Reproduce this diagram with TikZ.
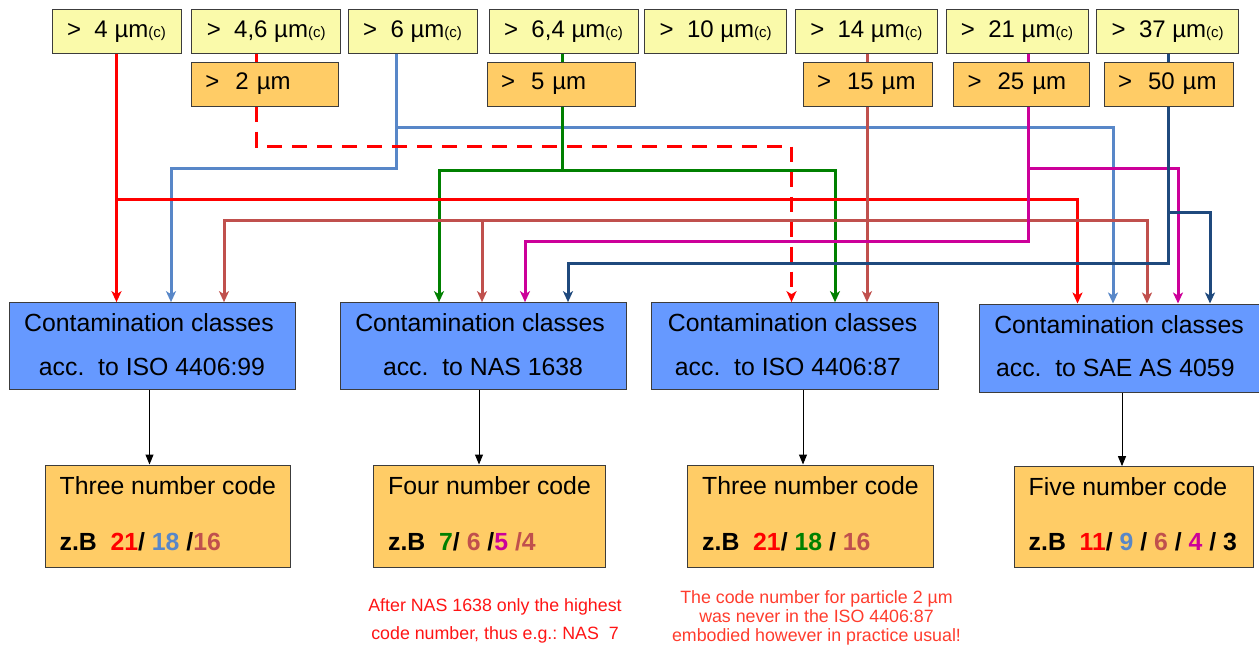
\documentclass[tikz,border=0pt]{standalone}
\usepackage{fontspec}
\setmainfont{Liberation Sans}
\usetikzlibrary{arrows.meta}
\definecolor{ylw}{RGB}{250,250,170}
\definecolor{org}{RGB}{255,204,102}
\definecolor{blu}{RGB}{102,153,255}
\definecolor{cred}{RGB}{255,0,0}
\definecolor{cblue}{RGB}{88,135,200}
\definecolor{cgreen}{RGB}{0,128,0}
\definecolor{cbrown}{RGB}{192,80,77}
\definecolor{cmag}{RGB}{204,0,153}
\definecolor{cdark}{RGB}{31,73,125}
\definecolor{nred}{RGB}{255,20,20}
\definecolor{nredb}{RGB}{255,60,45}
\definecolor{edge}{RGB}{60,60,60}
\newcommand{\mysubc}{{\fontsize{15}{15}\selectfont(c)}}
\frenchspacing
\begin{document}
\begin{tikzpicture}[x=1pt,y=-1pt,
  box/.style={draw=edge, line width=1pt, inner sep=0pt},
  topbox/.style={box, fill=ylw, minimum height=43.5pt, font=\fontsize{24}{24}\selectfont},
  midbox/.style={box, fill=org, minimum height=44pt, inner xsep=14pt, align=left, font=\fontsize{24}{24}\selectfont},
  clsbox/.style={box, fill=blu, minimum width=286pt, minimum height=87.3pt},
  codebox/.style={box, fill=org, minimum height=102pt},
  big/.style={inner sep=0pt, font=\fontsize{24.8}{24.8}\selectfont},
  bigl/.style={big, anchor=base west},
  bigc/.style={big, anchor=base},
  note/.style={inner sep=0pt, font=\fontsize{17.8}{17.8}\selectfont, anchor=base},
  line3/.style={line width=3pt},
  conn/.style={line3, -{Stealth[length=11pt,width=10pt,inset=3pt]}},
  dashconn/.style={conn, dash pattern=on 15pt off 10pt},
  kconn/.style={line width=1pt, black, -{Triangle[length=10pt,width=8pt]}}
]
\useasboundingbox (0,0) rectangle (1259,646);

% top row
\node[topbox, minimum width=129pt]   (t1) at (116.5,31.3) {>\ \ 4 µm\mysubc};
\node[topbox, minimum width=149.5pt] (t2) at (266.2,31.3) {>\ \ 4,6 µm\mysubc};
\node[topbox, minimum width=129pt]   (t3) at (412.5,31.3) {>\ \ 6 µm\mysubc};
\node[topbox, minimum width=149pt]   (t4) at (563.5,31.3) {>\ \ 6,4 µm\mysubc};
\node[topbox, minimum width=142.5pt] (t5) at (715.7,31.3) {>\ \ 10 µm\mysubc};
\node[topbox, minimum width=142.5pt] (t6) at (866.3,31.3) {>\ \ 14 µm\mysubc};
\node[topbox, minimum width=142pt]   (t7) at (1017,31.3) {>\ \ 21 µm\mysubc};
\node[topbox, minimum width=142.5pt] (t8) at (1167.7,31.3) {>\ \ 37 µm\mysubc};

% second row
\node[midbox, text width=119.5pt] (o1) at (265.2,84) {>\ \ 2 µm};
\node[midbox, text width=120pt]   (o2) at (561,84) {>\ \ 5 µm};
\node[midbox, text width=101pt]   (o3) at (867.5,84) {>\ \ 15 µm};
\node[midbox, text width=107.4pt] (o4) at (1021.3,84) {>\ \ 25 µm};
\node[midbox, text width=101pt]   (o5) at (1168.5,84) {>\ \ 50 µm};

% classification boxes
\node[clsbox] (b1) at (152,346.3) {};
\node[clsbox, minimum width=285.7pt] (b2) at (483.5,346.3) {};
\node[clsbox, minimum width=286.5pt] (b3) at (795.2,346.3) {};
\node[clsbox, minimum width=283pt, minimum height=88pt] (b4) at (1120.5,348) {};
\node[bigc] (b1a) at (149,331.7) {Contamination classes};
\node[bigc] (b1b) at (152,375) {acc.\ \ to ISO 4406:99};
\node[bigc] (b2a) at (480,331.7) {Contamination classes};
\node[bigc] (b2b) at (483,375) {acc.\ \ to NAS 1638};
\node[bigc] (b3a) at (792.6,331.7) {Contamination classes};
\node[bigc] (b3b) at (788,375) {acc.\ \ to ISO 4406:87};
\node[bigc] (b4a) at (1119,333.3) {Contamination classes};
\node[bigc] (b4b) at (1115.3,376) {acc.\ \ to SAE AS 4059};

% code boxes
\node[codebox, minimum width=245.6pt] (ob1) at (167.8,516) {};
\node[codebox, minimum width=232.1pt] (ob2) at (489.75,516) {};
\node[codebox, minimum width=245.5pt] (ob3) at (810.25,516) {};
\node[codebox, minimum width=239.6pt, minimum height=101.3pt] (ob4) at (1133.8,517.3) {};
\node[bigl] (ob1a) at (59.4,494.3) {Three number code};
\node[bigl] (ob1b) at (59.4,550) {\bfseries z.B\ \ \textcolor{cred}{21}/ \textcolor{cblue}{18} /\textcolor{cbrown}{16}};
\node[bigl] (ob2a) at (388,494.3) {Four number code};
\node[bigl] (ob2b) at (388,550) {\bfseries z.B\ \ \textcolor{cgreen}{7}/ \textcolor{cbrown}{6} /\textcolor{cmag}{5} \textcolor{cbrown}{/4}};
\node[bigl] (ob3a) at (702,494.3) {Three number code};
\node[bigl] (ob3b) at (702,550) {\bfseries z.B\ \ \textcolor{cred}{21}/ \textcolor{cgreen}{18} / \textcolor{cbrown}{16}};
\node[bigl] (ob4a) at (1028.5,495.7) {Five number code};
\node[bigl] (ob4b) at (1028.5,550.7) {\bfseries z.B\ \ \textcolor{cred}{11}/ \textcolor{cblue}{9} / \textcolor{cbrown}{6} / \textcolor{cmag}{4} / 3};

% notes
\node[note, text=nred] (n1a) at (495,611.7) {After NAS 1638 only the highest};
\node[note, text=nred] (n1b) at (495,639.3) {code number,\ thus e.g.: NAS\ \ 7};
\node[note, text=nredb] (n2a) at (816.5,603.5) {The code number for particle 2 µm};
\node[note, text=nredb] (n2b) at (816.5,622.5) {was never in the ISO 4406:87};
\node[note, text=nredb] (n2c) at (816.5,641.5) {embodied however in practice usual!};

% helper coordinates
\coordinate (xr2) at (256.6,0);
\coordinate (xbl) at (396,0);
\coordinate (xg) at (562,0);
\coordinate (xbr) at (867,0);
\coordinate (xm) at (1028.5,0);
\coordinate (xd) at (1168,0);
\coordinate (jr) at (1077.5,199);
\coordinate (jdash) at (791.5,146);
\coordinate (jb1) at (1113,127);
\coordinate (jb2) at (171,168);
\coordinate (jg1) at (439,170.5);
\coordinate (jg2) at (835,170.5);
\coordinate (jbr) at (867,220);
\coordinate (abr1) at (224,220);
\coordinate (abr2) at (482,220);
\coordinate (abr4) at (1147,220);
\coordinate (jm1) at (1178,168);
\coordinate (jm2) at (525,241.5);
\coordinate (jd1) at (1210,212);
\coordinate (jd2) at (568,263);
\coordinate (k1) at (149.5,0);
\coordinate (k2) at (479,0);
\coordinate (k3) at (803,0);
\coordinate (k4) at (1122,0);

% connectors
\draw[conn, cblue] (t3.south -| xbl) |- (jb1) -- (jb1 |- b4.north);
\draw[conn, cblue] (t3.south -| xbl) |- (jb2) -- (jb2 |- b1.north);
\draw[line3, cred] (t2.south -| xr2) -- (o1.north -| xr2);
\draw[dashconn, cred] (o1.south -| xr2) |- (jdash) -- (jdash |- b3.north);
\draw[line3, cgreen] (t4.south -| xg) -- (o2.north -| xg);
\draw[conn, cgreen] (o2.south -| xg) |- (jg1) -- (jg1 |- b2.north);
\draw[conn, cgreen] (o2.south -| xg) |- (jg2) -- (jg2 |- b3.north);
\draw[conn, cred] (t1.south) -- (t1.south |- b1.north);
\draw[conn, cred] (t1.south |- jr) -- (jr) -- (jr |- b4.north);
\draw[line3, cbrown] (t6.south -| xbr) -- (o3.north -| xbr);
\draw[conn, cbrown] (o3.south -| xbr) -- (xbr |- b3.north);
\draw[conn, cbrown] (jbr) -| (abr1 |- b1.north);
\draw[conn, cbrown] (jbr) -| (abr4 |- b4.north);
\draw[conn, cbrown] (abr2) -- (abr2 |- b2.north);
\draw[line3, cmag] (t7.south -| xm) -- (o4.north -| xm);
\draw[conn, cmag] (o4.south -| xm) |- (jm1) -- (jm1 |- b4.north);
\draw[conn, cmag] (o4.south -| xm) |- (jm2) -- (jm2 |- b2.north);
\draw[line3, cdark] (t8.south -| xd) -- (o5.north -| xd);
\draw[conn, cdark] (o5.south -| xd) |- (jd1) -- (jd1 |- b4.north);
\draw[conn, cdark] (o5.south -| xd) |- (jd2) -- (jd2 |- b2.north);

\draw[kconn] (b1.south -| k1) -- (ob1.north -| k1);
\draw[kconn] (b2.south -| k2) -- (ob2.north -| k2);
\draw[kconn] (b3.south -| k3) -- (ob3.north -| k3);
\draw[kconn] (b4.south -| k4) -- (ob4.north -| k4);
\end{tikzpicture}
\end{document}
